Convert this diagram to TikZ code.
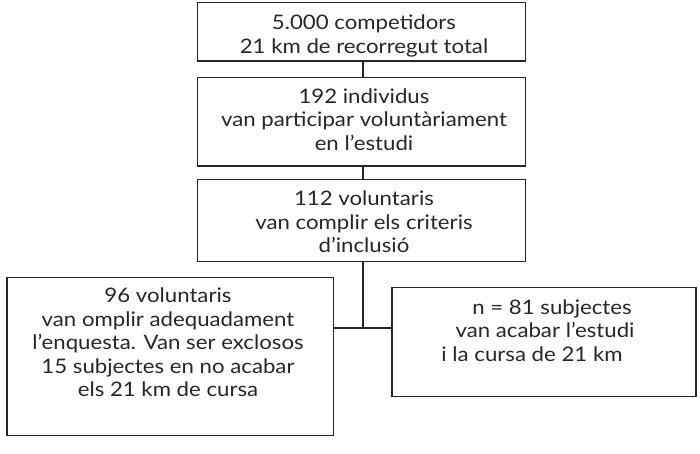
\documentclass[tikz,border=0pt]{standalone}
\usepackage{fontspec}
\setmainfont{Lato}[FakeStretch=1.11]
\usetikzlibrary{calc}
\begin{document}
\begin{tikzpicture}[x=1pt,y=-1pt,
  box/.style={draw=black!85, line width=1.2pt, inner sep=0pt, fill=none},
  txt/.style={inner sep=0pt, anchor=base, align=center, font=\fontsize{20}{23.5}\selectfont, text=black!85},
  link/.style={draw=black!85, line width=1.2pt}]
\useasboundingbox (0,0) rectangle (700,453);
% boxes
\node[box, minimum width=328.4pt, minimum height=58.7pt] (b1) at (361.5,31.65) {};
\node[box, minimum width=328.4pt, minimum height=88.7pt] (b2) at (361.5,121.65) {};
\node[box, minimum width=328.4pt, minimum height=82.4pt] (b3) at (361.5,220.5) {};
\node[box, minimum width=326.5pt, minimum height=158.4pt] (b4) at (170.25,356.5) {};
\node[box, minimum width=304pt, minimum height=109.4pt] (b5) at (544,342) {};
% texts (anchored at the baseline of the last line)
\node[txt] (t1) at (364,53.3) {5.000 competidors\\21 km de recorregut total};
\node[txt] (t2) at (364,150) {192 individus\\van participar voluntàriament\\en l’estudi};
\node[txt] (t3) at (364,252.7) {112 voluntaris\\van complir els criteris\\d’inclusió};
\node[txt] (t4) at (168,396.7) {96 voluntaris\\van omplir adequadament\\l’enquesta. Van ser exclosos\\15 subjectes en no acabar\\els 21 km de cursa};
\node[txt] (t5) at (545,361) {\hspace*{14pt}n = 81 subjectes\\van acabar l’estudi\\i la cursa de 21 km\hspace*{26pt}};
% connectors
\coordinate (spine) at (363,0);
\coordinate (j) at (363,328);
\draw[link] (b1.south -| spine) -- (b2.north -| spine);
\draw[link] (b2.south -| spine) -- (b3.north -| spine);
\draw[link] (b3.south -| spine) -- (j);
\draw[link] (b4.east |- j) -- (b5.west |- j);
\end{tikzpicture}
\end{document}
